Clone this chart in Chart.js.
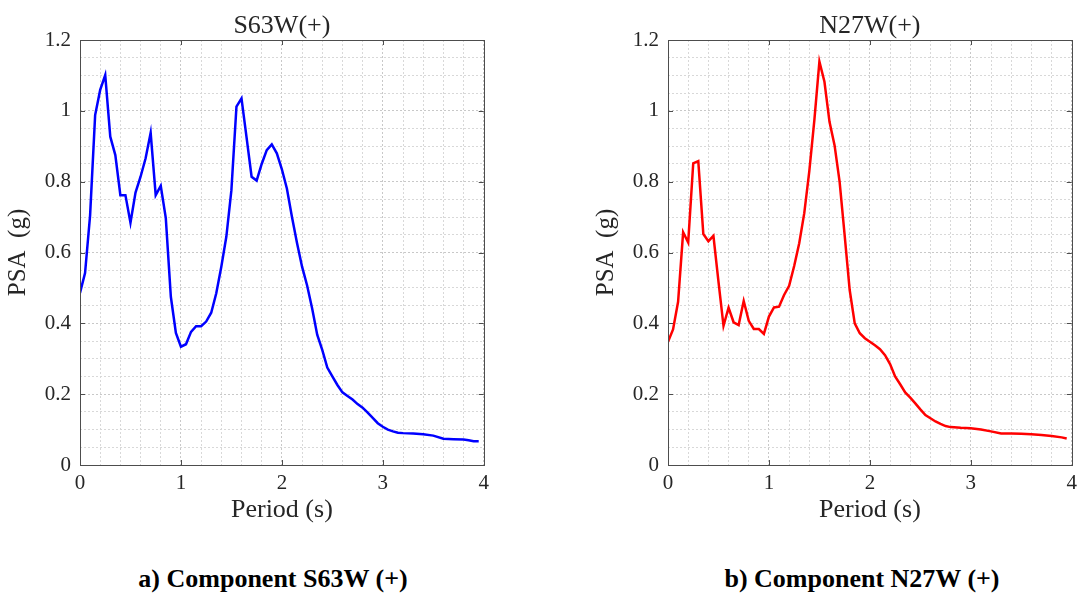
<!DOCTYPE html>
<html>
<head>
<meta charset="utf-8">
<script src="https://cdn.jsdelivr.net/npm/chart.js"></script>
<style>
  body { margin: 0; width: 1083px; height: 600px; overflow: hidden; background: #fff; position: relative; }
  .plot { position: absolute; top: 0; }
  .caption { position: absolute; top: 564px; width: 400px; text-align: center;
             font-weight: bold; font-size: 26px; line-height: 30px; color: #000;
             font-family: "Liberation Serif", Tinos, "Times New Roman", "DejaVu Serif", serif; }
</style>
</head>
<body>
<canvas id="chartA" class="plot" style="left:0px" width="495" height="540"></canvas>
<canvas id="chartB" class="plot" style="left:588px" width="495" height="540"></canvas>
<div class="caption" style="left:73px">a) Component S63W (+)</div>
<div class="caption" style="left:662px">b) Component N27W (+)</div>

<script>
// Periodos y PSA, componente S63W(+)
const periodsS63W = [0, 0.05, 0.1, 0.15, 0.2, 0.25, 0.3, 0.35, 0.4, 0.45, 0.5, 0.55, 0.6, 0.65, 0.7, 0.75, 0.8, 0.85, 0.9, 0.95,
    1.0, 1.05, 1.1, 1.15, 1.2, 1.25, 1.3, 1.35, 1.4, 1.45, 1.5, 1.55, 1.6, 1.65, 1.7, 1.75, 1.8, 1.85, 1.9, 1.95,
    2.0, 2.05, 2.1, 2.15, 2.2, 2.25, 2.3, 2.35, 2.4, 2.45, 2.5, 2.55, 2.6, 2.65, 2.7, 2.75, 2.8, 2.85, 2.9, 2.95,
    3.0, 3.05, 3.1, 3.15, 3.2, 3.3, 3.4, 3.5, 3.6, 3.7, 3.8, 3.85, 3.9, 3.95];
const psaS63W = [0.486, 0.542, 0.705, 0.988, 1.059, 1.101, 0.927, 0.875, 0.762, 0.762, 0.684, 0.769, 0.814, 0.866, 0.938, 0.762, 0.788, 0.697, 0.475, 0.373,
    0.334, 0.341, 0.376, 0.392, 0.392, 0.405, 0.43, 0.485, 0.56, 0.645, 0.776, 1.012, 1.035, 0.925, 0.814, 0.803, 0.85, 0.889, 0.905, 0.88,
    0.835, 0.78, 0.70, 0.627, 0.56, 0.507, 0.442, 0.368, 0.325, 0.275, 0.25, 0.226, 0.205, 0.195, 0.185, 0.172, 0.162, 0.148, 0.133, 0.118,
    0.108, 0.1, 0.095, 0.091, 0.09, 0.089, 0.087, 0.083, 0.074, 0.073, 0.072, 0.07, 0.067, 0.067];

// Periodos y PSA, componente N27W(+)
const periodsN27W = [0, 0.05, 0.1, 0.15, 0.2, 0.25, 0.3, 0.35, 0.4, 0.45, 0.5, 0.55, 0.6, 0.65, 0.7, 0.75, 0.8, 0.85, 0.9, 0.95,
    1.0, 1.05, 1.1, 1.15, 1.2, 1.25, 1.3, 1.35, 1.4, 1.45, 1.5, 1.55, 1.6, 1.65, 1.7, 1.75, 1.8, 1.85, 1.9, 1.95,
    2.0, 2.05, 2.1, 2.15, 2.2, 2.25, 2.3, 2.35, 2.4, 2.45, 2.5, 2.55, 2.6, 2.65, 2.7, 2.75, 2.8, 2.9,
    3.0, 3.1, 3.2, 3.3, 3.4, 3.5, 3.6, 3.7, 3.8, 3.9, 3.95];
const psaN27W = [0.348, 0.383, 0.461, 0.657, 0.628, 0.852, 0.858, 0.652, 0.632, 0.647, 0.518, 0.393, 0.444, 0.403, 0.395, 0.463, 0.407, 0.384, 0.384, 0.37,
    0.419, 0.445, 0.447, 0.48, 0.506, 0.562, 0.626, 0.711, 0.83, 0.974, 1.139, 1.082, 0.969, 0.903, 0.80, 0.649, 0.494, 0.40, 0.372, 0.358,
    0.348, 0.338, 0.327, 0.31, 0.285, 0.25, 0.228, 0.205, 0.19, 0.174, 0.157, 0.141, 0.132, 0.123, 0.116, 0.11, 0.107, 0.105,
    0.104, 0.1, 0.095, 0.089, 0.089, 0.088, 0.087, 0.085, 0.082, 0.078, 0.075];

// Etiquetas de los ejes
const xTickLabels = [0, 1, 2, 3, 4];
const yTickLabels = [0, 0.2, 0.4, 0.6, 0.8, 1, 1.2];

const serif = '"Liberation Serif", Tinos, "Times New Roman", "DejaVu Serif", serif';
const textColor = '#262626';

function isIn(list, v) {
    return list.some(t => Math.abs(t - v) < 1e-6);
}

// Marco, marcas hacia dentro y titulo centrado sobre el area
const framePlugin = {
    id: 'frame',
    afterDraw(chart, args, opts) {
        const { ctx, chartArea: a, scales: { x, y } } = chart;
        ctx.save();
        ctx.strokeStyle = '#4d4d4d';
        ctx.lineWidth = 1;
        ctx.strokeRect(Math.round(a.left) + 0.5, Math.round(a.top) + 0.5, Math.round(a.width), Math.round(a.height));
        ctx.beginPath();
        xTickLabels.forEach(v => {
            const px = Math.round(x.getPixelForValue(v)) + 0.5;
            ctx.moveTo(px, a.bottom); ctx.lineTo(px, a.bottom - 5);
            ctx.moveTo(px, a.top); ctx.lineTo(px, a.top + 5);
        });
        yTickLabels.forEach(v => {
            const py = Math.round(y.getPixelForValue(v)) + 0.5;
            ctx.moveTo(a.left, py); ctx.lineTo(a.left + 5, py);
            ctx.moveTo(a.right, py); ctx.lineTo(a.right - 5, py);
        });
        ctx.stroke();
        ctx.fillStyle = textColor;
        ctx.font = '26px ' + serif;
        ctx.textAlign = 'center';
        ctx.textBaseline = 'alphabetic';
        ctx.fillText(opts.text, (a.left + a.right) / 2, a.top - 7);
        ctx.restore();
    }
};

function makeChart(id, title, periods, values, color) {
    const ctx = document.getElementById(id).getContext('2d');
    return new Chart(ctx, {
        type: 'line',
        data: {
            datasets: [{
                data: periods.map((p, i) => ({ x: p, y: values[i] })),
                borderColor: color,
                borderWidth: 2.5,
                pointRadius: 0,
                tension: 0,
                fill: false
            }]
        },
        options: {
            responsive: false,
            animation: false,
            layout: { padding: { top: 40, right: 8, left: 0, bottom: 0 } },
            plugins: {
                legend: { display: false },
                tooltip: { enabled: false },
                frame: { text: title }
            },
            scales: {
                x: {
                    type: 'linear',
                    min: 0,
                    max: 4,
                    afterFit: s => { s.height = 75; },
                    ticks: {
                        stepSize: 0.2,
                        autoSkip: false,
                        maxRotation: 0,
                        padding: 6,
                        color: textColor,
                        font: { family: serif, size: 21 },
                        callback: v => isIn(xTickLabels, v) ? String(Math.round(v)) : ''
                    },
                    grid: {
                        drawTicks: false,
                        color: c => isIn(xTickLabels, c.tick.value) ? '#c8c8c8' : '#d8d8d8'
                    },
                    border: { display: false, dash: [2, 2] },
                    title: {
                        display: true,
                        text: 'Period (s)',
                        color: textColor,
                        font: { family: serif, size: 26 },
                        padding: { top: 0, bottom: 14 }
                    }
                },
                y: {
                    min: 0,
                    max: 1.2,
                    afterFit: s => { s.width = 80; },
                    ticks: {
                        stepSize: 0.05,
                        autoSkip: false,
                        padding: 9,
                        color: textColor,
                        font: { family: serif, size: 21 },
                        callback: v => isIn(yTickLabels, v) ? String(Number(v.toFixed(1))) : ''
                    },
                    grid: {
                        drawTicks: false,
                        color: c => isIn(yTickLabels, c.tick.value) ? '#c8c8c8' : '#d8d8d8'
                    },
                    border: { display: false, dash: [2, 2] },
                    title: {
                        display: true,
                        text: 'PSA  (g)',
                        color: textColor,
                        font: { family: serif, size: 25 },
                        padding: { top: 3, bottom: 0 }
                    }
                }
            }
        },
        plugins: [framePlugin]
    });
}

makeChart('chartA', 'S63W(+)', periodsS63W, psaS63W, '#0000ff');
makeChart('chartB', 'N27W(+)', periodsN27W, psaN27W, '#ff0000');
</script>
</body>
</html>
